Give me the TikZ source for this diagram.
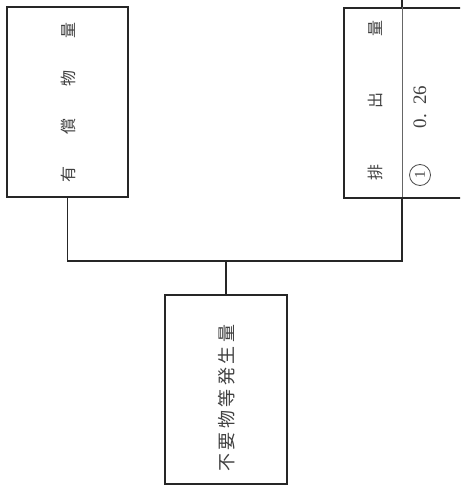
\documentclass[tikz,border=0pt]{standalone}
\usepackage{fontspec}
\newfontfamily\jp{Noto Sans CJK JP}
\setmainfont{Liberation Serif}
\begin{document}
\begin{tikzpicture}[x=1pt,y=-1pt,
  box/.style={draw=black!85,line width=1.6pt,inner sep=0pt},
  conn/.style={draw=black!85,line width=1.6pt},
  lbl/.style={text=black!75,rotate=90,inner sep=0pt},
  fs/.style={font=\jp\fontsize{#1}{#1}\selectfont}]
\clip (0,0) rectangle (460,486);
\useasboundingbox (0,0) rectangle (460,486);
% boxes
\node[box,minimum width=121pt,minimum height=190pt] (lbox) at (67.5,102) {};
\node[box,minimum width=140pt,minimum height=190pt,anchor=north west] (rbox) at (343,7) {};
\node[box,minimum width=122pt,minimum height=189pt] (bbox) at (226,389.5) {};
% texts
\node[lbl,fs=16] (t1) at (68,102.5) {有\kern32pt 償\kern32pt 物\kern32pt 量};
\node[lbl,fs=16] (t2) at (375,100.5) {排\kern56pt 出\kern56pt 量};
\node[lbl,font=\fontsize{19}{19}\selectfont] (t3) at (420,107) {0.\kern9pt 26};
\node[draw=black!70,line width=0.8pt,circle,minimum size=21pt,inner sep=0pt,rotate=90,text=black!75,font=\fontsize{15}{15}\selectfont] (c1) at (420,175) {1};
\node[lbl,fs=18] (t4) at (227,398) {不\kern3.5pt 要\kern3.5pt 物\kern3.5pt 等\kern3.5pt 発\kern3.5pt 生\kern3.5pt 量};
% divider inside right box
\coordinate (rdivt) at (402,0);
\coordinate (rdivtop) at (402,7);
\coordinate (rdivb) at (402,197);
\draw[draw=black!60,line width=0.8pt] (rdivtop) -- (rdivb);
\draw[conn] (rdivt) -- (rdivtop);
% connectors
\coordinate (bus) at (226,261);
\draw[conn] (lbox.south) |- (bus) -| (rdivb);
\draw[conn] (bus) -- (bbox.north);
\end{tikzpicture}
\end{document}
